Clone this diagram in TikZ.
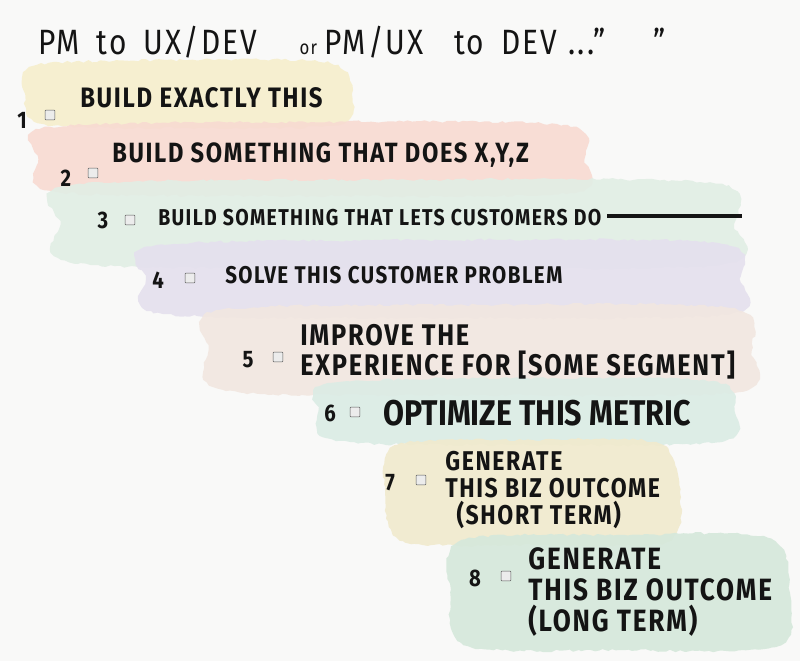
\documentclass[tikz,border=0pt]{standalone}
\usepackage{fontspec}
\setmainfont{Fira Sans}[FakeStretch=0.85,LetterSpace=6]
\usetikzlibrary{positioning,decorations.pathmorphing}

\definecolor{paper}{RGB}{249,249,248}
\definecolor{washA}{RGB}{246,239,204}
\definecolor{washB}{RGB}{248,218,210}
\definecolor{washC}{RGB}{225,238,229}
\definecolor{washD}{RGB}{229,224,238}
\definecolor{washE}{RGB}{242,231,224}
\definecolor{washF}{RGB}{219,236,229}
\definecolor{washG}{RGB}{241,234,205}
\definecolor{washH}{RGB}{213,232,219}
\definecolor{ink}{RGB}{20,20,20}

% a watercolour wash: colour, left, top, right, bottom (in px)
\newcommand{\wash}[5]{%
  \fill[#1, fill opacity=0.9, decorate,
        decoration={random steps,segment length=3pt,amplitude=0.9pt}]
    plot[smooth cycle] coordinates {(#2+12,#3+5) ({(#2+#4)/2},#3) (#4-22,#3+3)
      (#4,{(#3+#5)/2}) (#4-14,#5-3) ({(#2+#4)/2},#5) (#2+18,#5-4) (#2,{(#3+#5)/2})};}

\begin{document}
\begin{tikzpicture}[x=0.025cm,y=-0.025cm,
    num/.style={font=\bfseries\fontsize{17}{17}\selectfont, text=ink, inner sep=0pt},
    tick/.style={draw=gray!70!black, fill=gray!15, thin, minimum size=7pt,
      inner sep=0pt, rounded corners=0.6pt},
    item/.style={anchor=west, inner sep=0pt, align=left, text=ink}]
  \pgfmathsetseed{7}
  \fill[paper] (0,0) rectangle (800,661);
  \useasboundingbox (0,0) rectangle (800,661);

  % washes behind the list
  \wash{washA}{25}{60}{352}{128}
  \wash{washB}{38}{122}{585}{196}
  \wash{washC}{60}{180}{735}{268}
  \wash{washD}{145}{240}{740}{318}
  \wash{washE}{208}{305}{752}{395}
  \wash{washF}{318}{378}{735}{445}
  \wash{washG}{385}{440}{680}{545}
  \wash{washH}{450}{535}{790}{650}

  % heading
  \node[anchor=west, inner sep=0pt, text=ink, font=\fontsize{25}{25}\selectfont]
    (title) at (38,42) {PM\hspace{12pt}to\hspace{12pt}UX/DEV\hspace{30pt}{\fontsize{14}{14}\selectfont or}\hspace{5pt}PM/UX\hspace{22pt}to\hspace{12pt}DEV\hspace{8pt}...''\hspace{34pt}''};

  % numbers and checkboxes
  \foreach \k/\nx/\ny/\bx/\by in {1/22/120/50/115, 2/66/178/93/173, 3/103/220/130/220,
      4/158/280/190/278, 5/248/360/278/357, 6/330/413/355/412,
      7/390/483/421/480, 8/475/578/506/576} {
    \node[num] (n\k) at (\nx,\ny) {\k};
    \node[tick] (c\k) at (\bx,\by) {};
  }

  % the eight levels
  \node[item, font=\bfseries\fontsize{20}{20}\selectfont] (t1) at (80,98) {BUILD EXACTLY THIS};
  \node[item, font=\bfseries\fontsize{19.8}{19.8}\selectfont] (t2) at (112,155) {BUILD SOMETHING THAT DOES X,Y,Z};
  \node[item, font=\bfseries\fontsize{16.3}{16.3}\selectfont] (t3) at (158,218)
    {BUILD SOMETHING THAT LETS CUSTOMERS DO\ \rule[0.35em]{96pt}{2.6pt}};
  \node[item, font=\bfseries\fontsize{17.2}{17.2}\selectfont] (t4) at (225,275) {SOLVE THIS CUSTOMER PROBLEM};
  \node[item, font=\bfseries\fontsize{21.2}{21.5}\selectfont] (t5) at (300,352)
    {IMPROVE THE\\EXPERIENCE FOR [SOME SEGMENT]};
  \node[item, font=\bfseries\fontsize{25.4}{24}\selectfont\addfontfeatures{LetterSpace=0}] (t6) at (383,413) {OPTIMIZE THIS METRIC};
  \node[item, font=\bfseries\fontsize{19.3}{19.5}\selectfont] (t7) at (445,490)
    {GENERATE\\THIS BIZ OUTCOME\\\hspace*{8pt}(SHORT TERM)};
  \node[item, font=\bfseries\fontsize{21.9}{22}\selectfont] (t8) at (528,592)
    {GENERATE\\THIS BIZ OUTCOME\\(LONG TERM)};
\end{tikzpicture}
\end{document}
